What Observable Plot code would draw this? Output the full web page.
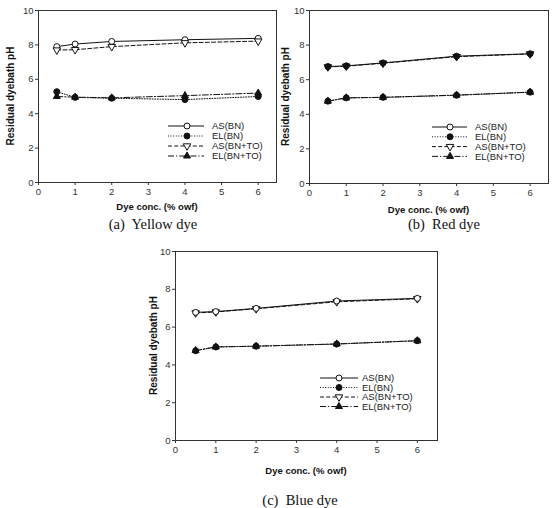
<!DOCTYPE html>
<html><head><meta charset="utf-8">
<script src="https://cdn.jsdelivr.net/npm/d3@7"></script>
<script src="https://cdn.jsdelivr.net/npm/@observablehq/plot@0.6"></script>
<style>
body{margin:0;background:#fff;}
#root{position:relative;width:559px;height:508px;overflow:hidden;background:#fff;}
.panel{position:absolute;}
.cap{position:absolute;font-family:"Liberation Serif","DejaVu Serif",serif;font-size:14.5px;line-height:16px;color:#111;white-space:pre;transform:translateX(-50%);}
</style></head><body><div id="root"></div>
<script>
// ---- data ----
const conc = [0.5, 1, 2, 4, 6];
const seriesNames = ["AS(BN)", "EL(BN)", "AS(BN+TO)", "EL(BN+TO)"];
const xTicks = [0, 1, 2, 3, 4, 5, 6];
const yTicks = [0, 2, 4, 6, 8, 10];
const captions = ["(a)  Yellow dye", "(b)  Red dye", "(c)  Blue dye"];
const xTitle = "Dye conc. (% owf)";
const yTitle = "Residual dyebath pH";

const yellowAS_BN   = [7.90, 8.05, 8.20, 8.30, 8.38];
const yellowEL_BN   = [5.28, 4.95, 4.90, 4.82, 5.00];
const yellowAS_BNTO = [7.70, 7.72, 7.90, 8.12, 8.22];
const yellowEL_BNTO = [5.00, 4.96, 4.92, 5.05, 5.20];

const redAS_BN   = [6.76, 6.80, 6.97, 7.36, 7.50];
const redEL_BN   = [4.76, 4.95, 4.98, 5.10, 5.28];
const redAS_BNTO = [6.74, 6.78, 6.95, 7.33, 7.49];
const redEL_BNTO = [4.76, 4.95, 4.98, 5.11, 5.28];

const blueAS_BN   = [6.78, 6.82, 6.99, 7.38, 7.52];
const blueEL_BN   = [4.75, 4.95, 4.99, 5.10, 5.28];
const blueAS_BNTO = [6.75, 6.80, 6.97, 7.34, 7.50];
const blueEL_BNTO = [4.76, 4.95, 4.99, 5.11, 5.28];

// ---- styles ----
const triDown = {
  draw(ctx, size) {
    const a = Math.sqrt(4 * size / Math.sqrt(3));
    const h = a * Math.sqrt(3) / 2;
    ctx.moveTo(-a / 2, -h / 3);
    ctx.lineTo(a / 2, -h / 3);
    ctx.lineTo(0, 2 * h / 3);
    ctx.closePath();
  }
};
const dashes = [null, "1,1.6", "4,2.2", "6,2,1.2,2"];
const symbols = [d3.symbolCircle, d3.symbolCircle, triDown, d3.symbolTriangle];
const fills = ["white", "#111", "white", "#111"];
const radii = [3, 3, 2.8, 2.6];
const INK = "#111";
const FONT = "'Liberation Sans', Arial, sans-serif";

function makePanel(cfg) {
  const sets = [cfg.AS_BN, cfg.EL_BN, cfg.AS_BNTO, cfg.EL_BNTO];
  const marks = [Plot.frame({stroke: "#333", strokeWidth: 1})];
  const order = cfg.order || [0, 1, 2, 3];
  for (const i of order) {
    const rows = conc.map((c, k) => ({c, v: sets[i][k]}));
    marks.push(Plot.line(rows, {x: "c", y: "v", stroke: INK, strokeWidth: 1, strokeDasharray: dashes[i] || undefined}));
  }
  for (const i of order) {
    const rows = conc.map((c, k) => ({c, v: sets[i][k]}));
    const fill = (cfg.fills && cfg.fills[i]) || fills[i];
    marks.push(Plot.dot(rows, {x: "c", y: "v", symbol: symbols[i], r: radii[i], fill, stroke: INK, strokeWidth: 1}));
  }
  marks.push(Plot.axisX({ticks: xTicks, tickFormat: d3.format("d"), tickSize: 3, tickPadding: 3, label: null, stroke: "#333"}));
  marks.push(Plot.axisY({ticks: yTicks, tickFormat: d3.format("d"), tickSize: 3, tickPadding: 2, label: null, stroke: "#333"}));
  const svg = Plot.plot({
    width: cfg.w, height: cfg.h,
    marginLeft: cfg.ml, marginRight: cfg.mr, marginTop: cfg.mt, marginBottom: cfg.mb,
    x: {domain: [0, 6.5]},
    y: {domain: [0, 10]},
    style: {fontFamily: FONT, fontSize: "9.5px", color: "#333", background: "transparent", overflow: "visible"},
    marks
  });
  const s = d3.select(svg);
  const fx0 = cfg.ml, fx1 = cfg.w - cfg.mr, fy0 = cfg.mt, fy1 = cfg.h - cfg.mb;
  s.append("text").attr("x", (fx0 + fx1) / 2).attr("y", cfg.xtY)
    .attr("text-anchor", "middle").attr("font-weight", "bold").attr("font-size", "9.5px")
    .attr("fill", "#111").attr("font-family", FONT).text(xTitle);
  s.append("text").attr("transform", `translate(${cfg.ytX},${(fy0 + fy1) / 2}) rotate(-90)`)
    .attr("dy", "0.35em").attr("text-anchor", "middle").attr("font-weight", "bold").attr("font-size", "10px")
    .attr("fill", "#111").attr("font-family", FONT).text(yTitle);
  // legend
  const L = cfg.legend;
  const g = s.append("g");
  seriesNames.forEach((name, i) => {
    const y = L.y0 + i * L.step;
    const ln = g.append("line").attr("x1", L.x0).attr("x2", L.x1).attr("y1", y).attr("y2", y)
      .attr("stroke", INK).attr("stroke-width", 1);
    if (dashes[i]) ln.attr("stroke-dasharray", dashes[i]);
    g.append("path").attr("transform", `translate(${L.mx},${y})`)
      .attr("d", d3.symbol().type(symbols[i]).size(Math.PI * radii[i] * radii[i])())
      .attr("fill", fills[i]).attr("stroke", INK).attr("stroke-width", 1);
    g.append("text").attr("x", L.tx).attr("y", y).attr("dy", "0.35em").attr("font-size", "9.5px")
      .attr("text-anchor", "start")
      .attr("fill", "#222").attr("font-family", FONT).text(name);
  });
  svg.classList.add("panel");
  svg.style.left = cfg.left + "px";
  svg.style.top = cfg.top + "px";
  return svg;
}

const root = document.getElementById("root");

root.appendChild(makePanel({
  AS_BN: yellowAS_BN, EL_BN: yellowEL_BN, AS_BNTO: yellowAS_BNTO, EL_BNTO: yellowEL_BNTO,
  left: 0, top: 0, w: 280, h: 215, ml: 38, mr: 4, mt: 10, mb: 33,
  xtY: 210, ytX: 10.5,
  legend: {x0: 168, x1: 204, mx: 187, tx: 212, y0: 126, step: 10}
}));

root.appendChild(makePanel({
  AS_BN: redAS_BN, EL_BN: redEL_BN, AS_BNTO: redAS_BNTO, EL_BNTO: redEL_BNTO,
  left: 270, top: 0, w: 289, h: 215, ml: 39, mr: 11, mt: 10, mb: 32,
  xtY: 213, ytX: 15,
  fills: ["#111", "#111", "#111", "#111"], order: [2, 3, 0, 1],
  legend: {x0: 162, x1: 197, mx: 180, tx: 205, y0: 127, step: 9.8}
}));

root.appendChild(makePanel({
  AS_BN: blueAS_BN, EL_BN: blueEL_BN, AS_BNTO: blueAS_BNTO, EL_BNTO: blueEL_BNTO,
  left: 130, top: 240, w: 320, h: 240, ml: 45, mr: 13, mt: 11, mb: 40,
  xtY: 234, ytX: 23,
  order: [3, 1, 2, 0],
  legend: {x0: 190, x1: 228, mx: 209, tx: 232, y0: 138, step: 9.5}
}));

const capPos = [[153, 216], [444, 216], [300, 492]];
captions.forEach((t, i) => {
  const d = document.createElement("div");
  d.className = "cap";
  d.textContent = t;
  d.style.left = capPos[i][0] + "px";
  d.style.top = capPos[i][1] + "px";
  root.appendChild(d);
});
</script>
</body></html>
